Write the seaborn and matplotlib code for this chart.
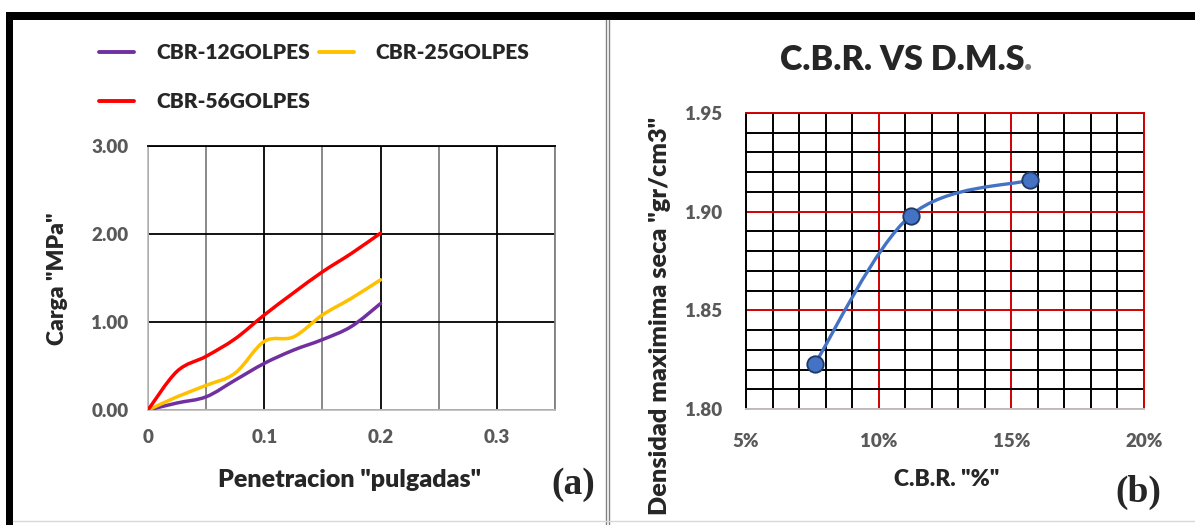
import numpy as np
import pandas as pd
import matplotlib
matplotlib.use("Agg")
import matplotlib.pyplot as plt
import seaborn as sns
from matplotlib.path import Path
from matplotlib.patches import PathPatch, Rectangle
from matplotlib.lines import Line2D
from matplotlib.ticker import FixedLocator, MultipleLocator

# Data: penetration test curves (left)
penetracion = [0, 0.025, 0.05, 0.075, 0.1, 0.125, 0.15, 0.175, 0.2]
carga_12 = [0, 0.08, 0.15, 0.34, 0.53, 0.68, 0.80, 0.95, 1.21]
carga_25 = [0, 0.15, 0.28, 0.42, 0.78, 0.83, 1.08, 1.27, 1.48]
carga_56 = [0, 0.44, 0.61, 0.81, 1.08, 1.33, 1.57, 1.78, 2.01]
series_names = ["CBR-12GOLPES", "CBR-25GOLPES", "CBR-56GOLPES"]
series_colors = ["#7030A0", "#FFC000", "#FF0000"]

# Data: CBR vs max dry density (right)
cbr_pct = [7.6, 11.2, 15.7]
dms = [1.823, 1.898, 1.916]

W, H = 1195, 525
sns.set_style("white")
plt.rcParams["font.family"] = ["Lato", "DejaVu Sans"]
WT = "heavy"


def smooth_path(x, y):
    # Catmull-Rom style smoothed path (like Excel "smoothed line")
    pts = np.column_stack([x, y]).astype(float)
    n = len(pts)
    verts = [pts[0]]
    codes = [Path.MOVETO]
    for i in range(n - 1):
        p0 = pts[i - 1] if i > 0 else pts[i]
        p1, p2 = pts[i], pts[i + 1]
        p3 = pts[i + 2] if i + 2 < n else pts[i + 1]
        verts += [p1 + (p2 - p0) / 6, p2 - (p3 - p1) / 6, p2]
        codes += [Path.CURVE4] * 3
    return Path(verts, codes)


fig = plt.figure(figsize=(W / 100, H / 100), dpi=100)
tick_kw = dict(color="#595959", fontsize=13.5, fontweight=WT)

# ---- left chart ----
ax1 = fig.add_axes([148 / W, 1 - 410 / H, 407 / W, 264 / H])
ax1.set_xlim(0, 0.35)
ax1.set_ylim(0, 3)
for yy, col in zip([carga_12, carga_25, carga_56], series_colors):
    ax1.add_patch(PathPatch(smooth_path(penetracion, yy), fill=False,
                            edgecolor=col, lw=2.5, capstyle="round", zorder=3))
ax1.xaxis.set_major_locator(FixedLocator([0, 0.1, 0.2, 0.3]))
ax1.xaxis.set_minor_locator(FixedLocator([0.05, 0.15, 0.25, 0.35]))
ax1.set_xticklabels(["0", "0.1", "0.2", "0.3"], **tick_kw)
ax1.set_yticks([0, 1, 2, 3])
ax1.set_yticklabels([f"{v:.2f}" for v in [0, 1, 2, 3]], **tick_kw)
ax1.grid(which="major", color="black", lw=1.3)
ax1.grid(which="minor", axis="x", color="#808080", lw=1.3)
ax1.tick_params(axis="both", which="both", length=0)
ax1.tick_params(axis="y", pad=14)
ax1.tick_params(axis="x", pad=14)
for s in ["left", "bottom"]:
    ax1.spines[s].set_color("#BFBFBF")
ax1.spines["top"].set_color("black")
ax1.spines["right"].set_color("#808080")
for s in ax1.spines.values():
    s.set_linewidth(1.3)

handles = [Line2D([], [], color=c, lw=2.8) for c in series_colors]
order = [0, 2, 1]
fig.legend([handles[i] for i in order], [series_names[i] for i in order],
           loc="upper left", bbox_to_anchor=(99 / W, 1 - 43 / H), ncol=2,
           frameon=False, borderpad=0, borderaxespad=0, handlelength=1.7,
           handletextpad=1.05, columnspacing=0.4, labelspacing=1.45,
           prop=dict(family="Lato", weight=WT, size=15))

fig.text(58 / W, 1 - 279 / H, 'Carga "MPa"', rotation=90, ha="center",
         va="center", fontsize=16.5, fontweight=WT)
fig.text(350 / W, 1 - 480 / H, 'Penetracion "pulgadas"', ha="center",
         va="center", fontsize=18, fontweight=WT)
fig.text(573 / W, 1 - 484 / H, "(a)", ha="center", va="center", fontsize=27,
         fontweight="bold", family="Liberation Serif")

# ---- right chart ----
ax2 = fig.add_axes([746 / W, 1 - 409 / H, 398 / W, 296 / H])
ax2.set_xlim(5, 20)
ax2.set_ylim(1.80, 1.95)
ax2.add_patch(PathPatch(smooth_path(cbr_pct, dms), fill=False,
                        edgecolor="#4472C4", lw=2.4, capstyle="round", zorder=3))
pts = pd.DataFrame({"cbr": cbr_pct, "dms": dms})
sns.scatterplot(data=pts, x="cbr", y="dms", ax=ax2, s=140, color="#4472C4",
                edgecolor="#1F3864", linewidth=1.3, zorder=4, legend=False)
ax2.set_xlabel("")
ax2.set_ylabel("")
ax2.set_xticks([5, 10, 15, 20])
ax2.set_xticklabels(["5%", "10%", "15%", "20%"], **tick_kw)
ax2.xaxis.set_minor_locator(MultipleLocator(1))
ax2.set_yticks([1.80, 1.85, 1.90, 1.95])
ax2.set_yticklabels([f"{v:.2f}" for v in [1.80, 1.85, 1.90, 1.95]], **tick_kw)
ax2.yaxis.set_minor_locator(MultipleLocator(0.01))
ax2.grid(which="minor", color="black", lw=1.4)
ax2.grid(which="major", color="#D00000", lw=1.4)
ax2.set_axisbelow(True)
ax2.tick_params(axis="both", which="both", length=0)
ax2.tick_params(axis="y", pad=17)
ax2.tick_params(axis="x", pad=17)
ax2.spines["left"].set_color("black")
ax2.spines["bottom"].set_color("#BFBFBF")
ax2.spines["top"].set_color("#D00000")
ax2.spines["right"].set_color("#D00000")
for s in ax2.spines.values():
    s.set_linewidth(1.4)

t = fig.text(902 / W, 1 - 60 / H, "C.B.R. VS D.M.S", ha="center", va="center",
             fontsize=24.5, fontweight=WT)
ax2.annotate(".", xy=(1, 0), xycoords=t, ha="left", va="bottom",
             fontsize=24.5, fontweight=WT, color="#808080",
             annotation_clip=False)
fig.text(660 / W, 1 - 316 / H, 'Densidad maximima seca "gr/cm3"', rotation=90,
         ha="center", va="center", fontsize=18.2, fontweight=WT)
fig.text(947 / W, 1 - 479 / H, 'C.B.R. "%"', ha="center", va="center",
         fontsize=16.5, fontweight=WT)
fig.text(1138 / W, 1 - 492 / H, "(b)", ha="center", va="center", fontsize=27,
         fontweight="bold", family="Liberation Serif")

# ---- frame ----
fig.add_artist(Rectangle((6 / W, 1 - 20 / H), 1 - 6 / W, 8 / H,
                         transform=fig.transFigure, color="black", lw=0))
fig.add_artist(Rectangle((6 / W, 0), 7 / W, 1 - 12 / H,
                         transform=fig.transFigure, color="black", lw=0))
for xs in [605.5, 608.5]:
    fig.add_artist(Line2D([xs / W, xs / W], [0, 1 - 20 / H],
                          transform=fig.transFigure, color="#808080", lw=1))
fig.add_artist(Line2D([13 / W, 1], [4 / H, 4 / H], transform=fig.transFigure,
                      color="#D9D9D9", lw=1))

fig.savefig("out.png", dpi=100)
